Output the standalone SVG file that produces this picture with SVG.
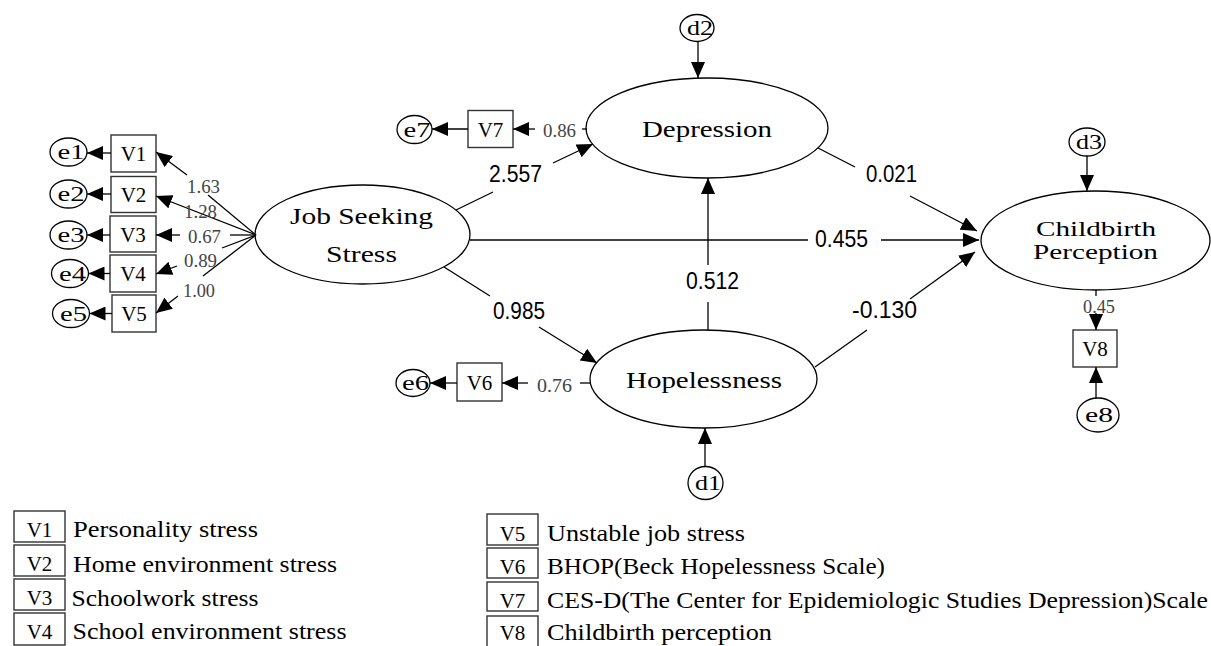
<svg xmlns="http://www.w3.org/2000/svg" width="1211" height="646" viewBox="0 0 1211 646">
<style>
.ln{stroke:#000;stroke-width:1.3;fill:none}
.ar{marker-end:url(#ah)}
.el{fill:#fff;stroke:#000;stroke-width:1.3}
.bx{fill:#fff;stroke:#333;stroke-width:1.4}
.t{font-family:"Liberation Serif","DejaVu Serif",serif;fill:#000}
.nm{font-size:24px}
.cb{font-size:21px}
.sm{font-size:21px;text-anchor:middle}
.vv{font-size:21px;text-anchor:middle}
.ld{font-family:"Liberation Serif","DejaVu Serif",serif;font-size:19px;fill:#444}
.cf{font-family:"Liberation Sans","DejaVu Sans",sans-serif;font-size:23px;fill:#000}
.lg{font-size:23px}
</style>
<defs>
<marker id="ah" markerUnits="userSpaceOnUse" markerWidth="16" markerHeight="14" refX="16" refY="7" orient="auto">
<path d="M0,0 L16,7 L0,14 Z" fill="#000"/>
</marker>
</defs>
<rect width="1211" height="646" fill="#fff"/>

<g id="jss"><ellipse class="el" cx="362.5" cy="234.5" rx="107.5" ry="49.5"/>
<text class="t nm" x="290" y="224" textLength="143" lengthAdjust="spacingAndGlyphs">Job Seeking</text>
<text class="t nm" x="326" y="262" textLength="71" lengthAdjust="spacingAndGlyphs">Stress</text></g>
<g id="depression"><ellipse class="el" cx="707" cy="128" rx="121" ry="50"/>
<text class="t nm" x="642" y="137" textLength="130" lengthAdjust="spacingAndGlyphs">Depression</text></g>
<g id="hopelessness"><ellipse class="el" cx="703.5" cy="379" rx="113.5" ry="49"/>
<text class="t nm" x="626" y="388" textLength="156" lengthAdjust="spacingAndGlyphs">Hopelessness</text></g>
<g id="childbirth"><ellipse class="el" cx="1095.5" cy="240.5" rx="114.5" ry="49.5"/>
<text class="t cb" x="1036" y="236" textLength="120" lengthAdjust="spacingAndGlyphs">Childbirth</text>
<text class="t cb" x="1033" y="259" textLength="125" lengthAdjust="spacingAndGlyphs">Perception</text></g>

<g id="e1"><ellipse class="el" cx="68.5" cy="152" rx="18.5" ry="14"/><text class="t sm" x="71" y="159" textLength="27" lengthAdjust="spacingAndGlyphs">e1</text></g>
<g id="e2"><ellipse class="el" cx="68.5" cy="194" rx="18.5" ry="14"/><text class="t sm" x="71" y="201" textLength="27" lengthAdjust="spacingAndGlyphs">e2</text></g>
<g id="e3"><ellipse class="el" cx="68.5" cy="235" rx="18.5" ry="14"/><text class="t sm" x="71" y="242" textLength="27" lengthAdjust="spacingAndGlyphs">e3</text></g>
<g id="e4"><ellipse class="el" cx="70" cy="273.5" rx="18.5" ry="14"/><text class="t sm" x="72.5" y="280.5" textLength="27" lengthAdjust="spacingAndGlyphs">e4</text></g>
<g id="e5"><ellipse class="el" cx="71" cy="313.5" rx="18.5" ry="14"/><text class="t sm" x="73.5" y="320.5" textLength="27" lengthAdjust="spacingAndGlyphs">e5</text></g>
<g id="e6"><ellipse class="el" cx="413" cy="383" rx="17" ry="13.5"/><text class="t sm" x="415.5" y="390" textLength="27" lengthAdjust="spacingAndGlyphs">e6</text></g>
<g id="e7"><ellipse class="el" cx="414.5" cy="129.5" rx="17.5" ry="14"/><text class="t sm" x="417" y="136.5" textLength="27" lengthAdjust="spacingAndGlyphs">e7</text></g>
<g id="e8"><ellipse class="el" cx="1098" cy="415" rx="21" ry="17"/><text class="t sm" x="1099" y="422" textLength="28" lengthAdjust="spacingAndGlyphs">e8</text></g>
<g id="d1"><ellipse class="el" cx="705.5" cy="483" rx="17.5" ry="16.5"/><text class="t sm" x="708" y="490" textLength="26" lengthAdjust="spacingAndGlyphs">d1</text></g>
<g id="d2"><ellipse class="el" cx="697" cy="28" rx="17" ry="13.5"/><text class="t sm" x="700" y="35" textLength="26" lengthAdjust="spacingAndGlyphs">d2</text></g>
<g id="d3"><ellipse class="el" cx="1087" cy="142" rx="18" ry="14"/><text class="t sm" x="1089" y="149" textLength="26" lengthAdjust="spacingAndGlyphs">d3</text></g>

<g id="V1"><rect class="bx" x="111" y="135" width="45" height="37"/><text class="t vv" x="133.5" y="161">V1</text></g>
<g id="V2"><rect class="bx" x="111" y="176.5" width="45" height="36"/><text class="t vv" x="133.5" y="202">V2</text></g>
<g id="V3"><rect class="bx" x="110" y="216" width="46" height="36"/><text class="t vv" x="133" y="242">V3</text></g>
<g id="V4"><rect class="bx" x="110" y="255" width="46" height="37"/><text class="t vv" x="133" y="281">V4</text></g>
<g id="V5"><rect class="bx" x="112" y="295" width="44" height="37"/><text class="t vv" x="134" y="321">V5</text></g>
<g id="V6"><rect class="bx" x="457" y="363" width="45" height="38"/><text class="t vv" x="479.5" y="390">V6</text></g>
<g id="V7"><rect class="bx" x="468" y="110.5" width="45" height="37"/><text class="t vv" x="490.5" y="137">V7</text></g>
<g id="V8"><rect class="bx" x="1073" y="330" width="44" height="37"/><text class="t vv" x="1095" y="356">V8</text></g>

<g id="connectors">
<path class="ln" d="M256,235 L208,195"/><path class="ln ar" d="M187,175 L156,152"/>
<path class="ln ar" d="M256,235 L156,196"/>
<path class="ln" d="M256,235 L230,235"/><path class="ln ar" d="M180,235 L156,235"/>
<path class="ln" d="M256,235 L222,248"/><path class="ln ar" d="M177,266 L156,274"/>
<path class="ln" d="M256,235 L203,276"/><path class="ln ar" d="M178,296 L156,313"/>
<path class="ln ar" d="M111,153 L87,153"/>
<path class="ln ar" d="M111,194 L87,194"/>
<path class="ln ar" d="M110,235 L87,235"/>
<path class="ln ar" d="M110,273.5 L88.5,273.5"/>
<path class="ln ar" d="M112,313.5 L89.5,313.5"/>
<path class="ln" d="M456,210 L493,192"/><path class="ln ar" d="M553,163 L593,144"/>
<path class="ln" d="M470,240 L808,240"/><path class="ln ar" d="M881,240 L979,240"/>
<path class="ln" d="M818,148 L855,167"/><path class="ln ar" d="M910,196 L977,231"/>
<path class="ln" d="M815,367 L867,330"/><path class="ln ar" d="M910,299 L975,252"/>
<path class="ln" d="M444,267 L490,296"/><path class="ln ar" d="M539,327 L597,363"/>
<path class="ln" d="M708,330 L708,302"/><path class="ln ar" d="M708,265 L708,178"/>
<path class="ln ar" d="M698,41.5 L698,78"/>
<path class="ln ar" d="M705,466.5 L705,428"/>
<path class="ln ar" d="M1087,156 L1087,191"/>
<path class="ln" d="M587,129 L582,129"/><path class="ln ar" d="M535,129 L513,129"/>
<path class="ln ar" d="M468,129 L432,129"/>
<path class="ln" d="M590,383 L580,383"/><path class="ln ar" d="M528,383 L502,383"/>
<path class="ln ar" d="M457,383 L430,383"/>
<path class="ln" d="M1096,290 L1096,296"/><path class="ln ar" d="M1096,313 L1096,330"/>
<path class="ln ar" d="M1096,398 L1096,367"/>

<text class="ld" x="187" y="193" textLength="33" lengthAdjust="spacingAndGlyphs">1.63</text>
<text class="ld" x="184" y="218" textLength="33" lengthAdjust="spacingAndGlyphs">1.28</text>
<text class="ld" x="188" y="243" textLength="33" lengthAdjust="spacingAndGlyphs">0.67</text>
<text class="ld" x="184" y="267" textLength="33" lengthAdjust="spacingAndGlyphs">0.89</text>
<text class="ld" x="183" y="297" textLength="32" lengthAdjust="spacingAndGlyphs">1.00</text>
<text class="ld" x="543" y="137" textLength="33" lengthAdjust="spacingAndGlyphs">0.86</text>
<text class="ld" x="537" y="392" textLength="35" lengthAdjust="spacingAndGlyphs">0.76</text>
<text class="ld" x="1083" y="313" textLength="32" lengthAdjust="spacingAndGlyphs">0.45</text>

<text class="cf" x="489" y="182" textLength="53" lengthAdjust="spacingAndGlyphs">2.557</text>
<text class="cf" x="866" y="182" textLength="51" lengthAdjust="spacingAndGlyphs">0.021</text>
<text class="cf" x="815" y="247" textLength="53" lengthAdjust="spacingAndGlyphs">0.455</text>
<text class="cf" x="852" y="318" textLength="65" lengthAdjust="spacingAndGlyphs">-0.130</text>
<text class="cf" x="493" y="319" textLength="52" lengthAdjust="spacingAndGlyphs">0.985</text>
<text class="cf" x="686" y="289" textLength="53" lengthAdjust="spacingAndGlyphs">0.512</text>
</g>

<g id="legend">
<rect class="bx" x="14" y="511" width="51" height="31"/><text class="t vv" x="39.5" y="537">V1</text>
<text class="t lg" x="73" y="537" textLength="185" lengthAdjust="spacingAndGlyphs">Personality stress</text>
<rect class="bx" x="14" y="545" width="51" height="31"/><text class="t vv" x="39.5" y="571">V2</text>
<text class="t lg" x="73" y="571.5" textLength="264" lengthAdjust="spacingAndGlyphs">Home environment stress</text>
<rect class="bx" x="14" y="579" width="51" height="31"/><text class="t vv" x="39.5" y="605">V3</text>
<text class="t lg" x="71.5" y="605.5" textLength="187" lengthAdjust="spacingAndGlyphs">Schoolwork stress</text>
<rect class="bx" x="14" y="613" width="51" height="32"/><text class="t vv" x="39.5" y="639">V4</text>
<text class="t lg" x="72.5" y="638.5" textLength="274" lengthAdjust="spacingAndGlyphs">School environment stress</text>

<rect class="bx" x="487" y="514" width="51" height="31"/><text class="t vv" x="512.5" y="541">V5</text>
<text class="t lg" x="547" y="541" textLength="198" lengthAdjust="spacingAndGlyphs">Unstable job stress</text>
<rect class="bx" x="487" y="548" width="51" height="30"/><text class="t vv" x="512.5" y="574">V6</text>
<text class="t lg" x="547" y="574" textLength="338" lengthAdjust="spacingAndGlyphs">BHOP(Beck Hopelessness Scale)</text>
<rect class="bx" x="487" y="582" width="51" height="29"/><text class="t vv" x="512.5" y="607.5">V7</text>
<text class="t lg" x="547" y="607.5" textLength="661" lengthAdjust="spacingAndGlyphs">CES-D(The Center for Epidemiologic Studies Depression)Scale</text>
<rect class="bx" x="487" y="616" width="51" height="34"/><text class="t vv" x="512.5" y="640">V8</text>
<text class="t lg" x="547" y="640" textLength="225" lengthAdjust="spacingAndGlyphs">Childbirth perception</text>
</g>
</svg>
